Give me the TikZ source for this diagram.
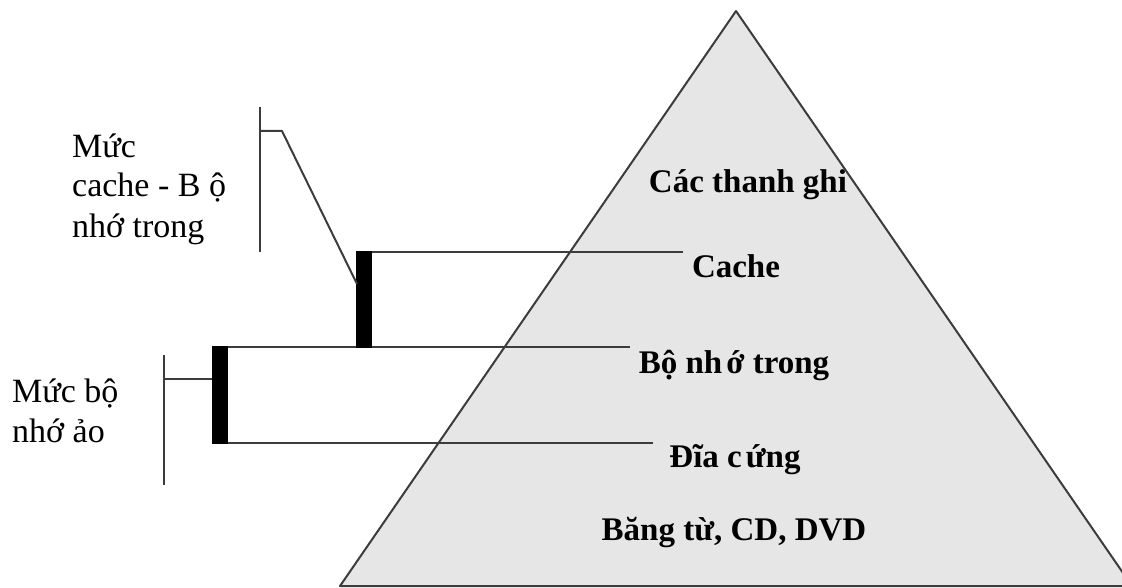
\documentclass[tikz,border=0pt]{standalone}
\usepackage{fontspec}
\setmainfont{Liberation Serif}
\definecolor{pyrfill}{HTML}{E6E6E6}
\definecolor{linegray}{HTML}{3C3C3C}
\begin{document}
\begin{tikzpicture}[x=1pt,y=-1pt,
  ln/.style={draw=linegray,line width=2pt},
  bar/.style={fill=black,draw=none},
  lvl/.style={font=\fontsize{33}{40}\selectfont\bfseries,anchor=base,inner sep=0pt},
  side/.style={font=\fontsize{34}{40}\selectfont,anchor=base west,align=left,inner sep=0pt}]
\useasboundingbox (0,0) rectangle (1122,588);
% pyramid
\coordinate (apex) at (736,11);
\coordinate (bl) at (340,586);
\coordinate (br) at (1132,586);
\begin{scope}
\clip (0,0) rectangle (1122,588);
\filldraw[fill=pyrfill,draw=linegray,line width=2pt,line join=round] (apex) -- (bl) -- (br) -- cycle;
\end{scope}
% level texts
\node[lvl] (reg) at (748,193) {Các thanh ghi};
\node[lvl] (cache) at (736,277) {Cache};
\node[lvl] (ram) at (734,373) {Bộ nh\kern4pt ớ trong};
\node[lvl] (disk) at (735,467) {Đĩa c\kern4pt ứng};
\node[lvl] (tape) at (734,540) {Băng từ, CD, DVD};
% divider lines
\coordinate (c1) at (364,252);
\coordinate (c1e) at (683,252);
\coordinate (c2) at (214,347);
\coordinate (c2e) at (630,347);
\coordinate (c3) at (220,443);
\coordinate (c3e) at (653,443);
\draw[ln] (c1) -- (c1e);
\draw[ln] (c2) -- (c2e);
\draw[ln] (c3) -- (c3e);
% black bars
\fill[bar] (356,251) rectangle (372,348);
\fill[bar] (212,346) rectangle (228,444);
% bracket 1
\coordinate (b1t) at (260,107);
\coordinate (b1b) at (260,252);
\coordinate (b1h) at (260,131);
\coordinate (b1k) at (282,131);
\coordinate (b1e) at (357,284);
\draw[ln] (b1t) -- (b1b);
\draw[ln,line join=round] (b1h) -- (b1k) -- (b1e);
% bracket 2
\coordinate (b2t) at (164,355);
\coordinate (b2b) at (164,485);
\coordinate (b2h) at (164,379);
\coordinate (b2e) at (212,379);
\draw[ln] (b2t) -- (b2b);
\draw[ln] (b2h) -- (b2e);
% side labels (anchor = baseline of last line)
\node[side] (lab1) at (72,237) {Mức\\cache - B ộ\\nhớ trong};
\node[side] (lab2) at (12,442) {Mức bộ\\nhớ ảo};
\end{tikzpicture}
\end{document}
